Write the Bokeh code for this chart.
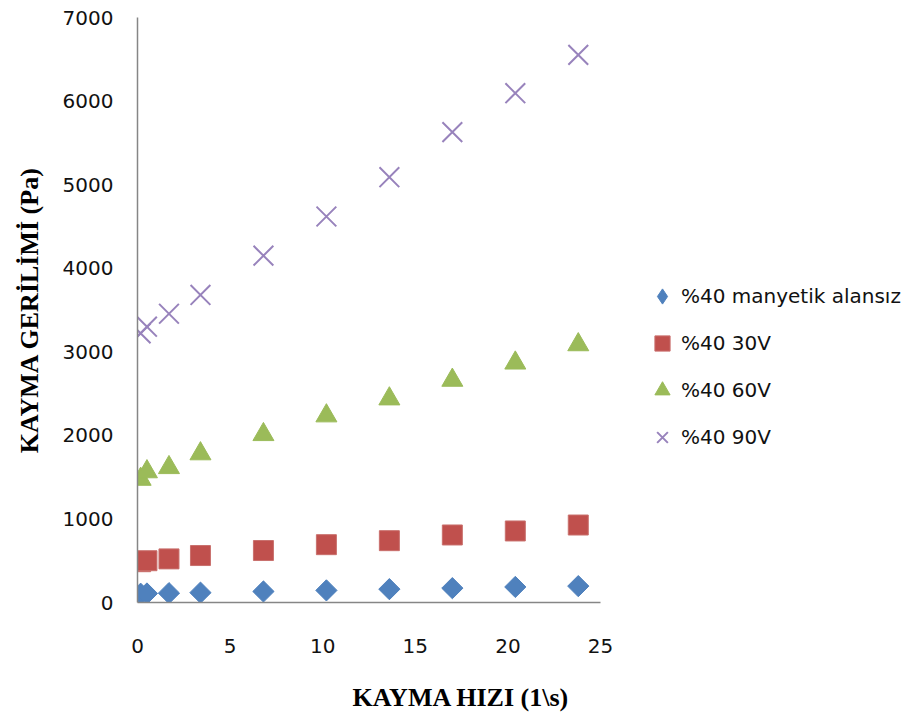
import math

from bokeh.embed import file_html
from bokeh.layouts import column
from bokeh.models import ColumnDataSource, Legend, LegendItem, Range1d, FixedTicker
from bokeh.plotting import figure
from bokeh.resources import INLINE

# Shear rate (1/s) and shear stress (Pa) for the 40% suspension under different fields
shear_rate = [0.17, 0.51, 1.7, 3.4, 6.8, 10.2, 13.6, 17.0, 20.4, 23.8]
stress_no_field = [105, 108, 112, 118, 132, 145, 160, 172, 186, 196]
stress_30v = [488, 500, 522, 562, 622, 692, 740, 808, 856, 927]
stress_60v = [1475, 1565, 1615, 1780, 2010, 2234, 2437, 2660, 2866, 3085]
stress_90v = [3220, 3300, 3455, 3680, 4150, 4619, 5089, 5628, 6094, 6553]

series_names = ["%40 manyetik alansız", "%40 30V", "%40 60V", "%40 90V"]
x_ticks = [0, 5, 10, 15, 20, 25]
y_ticks = [0, 1000, 2000, 3000, 4000, 5000, 6000, 7000]
x_title = "KAYMA HIZI (1\\s)"
y_title = "KAYMA GERİLİMİ (Pa)"

src = ColumnDataSource(dict(
    x=shear_rate, s0=stress_no_field, s30=stress_30v, s60=stress_60v, s90=stress_90v,
))

# The frame runs to the right edge so the legend can sit beside the data;
# the x axis itself is bounded to 0..25.
total_w = 915
left_px, axis_end_px, frame_right_px = 137, 600, 913
x_end = 25 * (frame_right_px - left_px) / (axis_end_px - left_px)

p = figure(
    width=total_w, height=670,
    output_backend="svg", toolbar_location=None,
    x_range=Range1d(0, x_end), y_range=Range1d(0, 7000),
    min_border_left=left_px, min_border_right=total_w - frame_right_px,
    min_border_top=17, min_border_bottom=68,
)
p.outline_line_color = None
p.xgrid.grid_line_color = None
p.ygrid.grid_line_color = None

axis_gray = "#868686"
tick_font = "DejaVu Sans"
title_font = "Liberation Serif"
for ax in (p.xaxis[0], p.yaxis[0]):
    ax.axis_line_color = axis_gray
    ax.axis_line_width = 1.5
    ax.major_tick_line_color = None
    ax.minor_tick_line_color = None
    ax.major_tick_out = 0
    ax.major_tick_in = 0
    ax.minor_tick_out = 0
    ax.minor_tick_in = 0
    ax.major_label_text_font = tick_font
    ax.major_label_text_font_size = "20px"
    ax.major_label_text_color = "#111111"
    ax.axis_label_text_font = title_font
    ax.axis_label_text_font_style = "bold"
    ax.axis_label_text_font_size = "26px"
    ax.axis_label_text_color = "#000000"

p.xaxis.bounds = (0, 25)
p.xaxis.ticker = FixedTicker(ticks=x_ticks)
p.yaxis.ticker = FixedTicker(ticks=y_ticks)
p.xaxis.major_label_standoff = 36
p.yaxis.major_label_standoff = 24
p.yaxis.axis_label = y_title
p.yaxis.axis_label_standoff = 16

blue, red, green, purple = "#4F81BD", "#C0504D", "#9BBB59", "#9883BC"

# upright diamonds for the legend key (legend glyphs ignore angle); they sit
# entirely underneath the rotated squares drawn next
key0 = p.scatter("x", "s0", source=src, marker="diamond", size=13, angle=math.pi / 2,
                 fill_color=blue, line_color=blue, line_width=1)
r0 = p.scatter("x", "s0", source=src, marker="square", size=15, angle=math.pi / 4,
               fill_color=blue, line_color=blue, line_width=1)
r30 = p.scatter("x", "s30", source=src, marker="square", size=20,
                fill_color=red, line_color="#C9706D", line_width=1)
r60 = p.scatter("x", "s60", source=src, marker="triangle", size=21,
                fill_color=green, line_color=green, line_width=1)
r90 = p.scatter("x", "s90", source=src, marker="x", size=28,
                line_color=purple, line_width=2)

legend = Legend(
    items=[LegendItem(label=n, renderers=[r]) for n, r in zip(series_names, [key0, r30, r60, r90])],
    location=(506, 146),
    padding=0, margin=0, spacing=9,
    glyph_width=38, glyph_height=38, label_height=20, label_standoff=0,
    label_text_font=tick_font, label_text_font_size="20px", label_text_color="#111111",
    border_line_color=None, background_fill_alpha=0,
)
p.add_layout(legend)

# caption strip under the chart carrying the x-axis title; its frame is aligned
# with the chart frame, so its x range is expressed in page pixels
cap_h = 46
cap = figure(
    width=total_w, height=cap_h,
    output_backend="svg", toolbar_location=None,
    x_range=Range1d(left_px, frame_right_px), y_range=Range1d(0, cap_h),
    min_border=0, min_border_left=left_px, min_border_right=total_w - frame_right_px,
    outline_line_color=None,
)
cap.axis.visible = False
cap.grid.visible = False
cap.text(x=[352], y=[19], text=[x_title], text_align="left", text_baseline="middle",
         text_font=title_font, text_font_style="bold", text_font_size="26px",
         text_color="#000000")

layout = column(p, cap, spacing=0)
open("out.html", "w").write(file_html(layout, INLINE))
